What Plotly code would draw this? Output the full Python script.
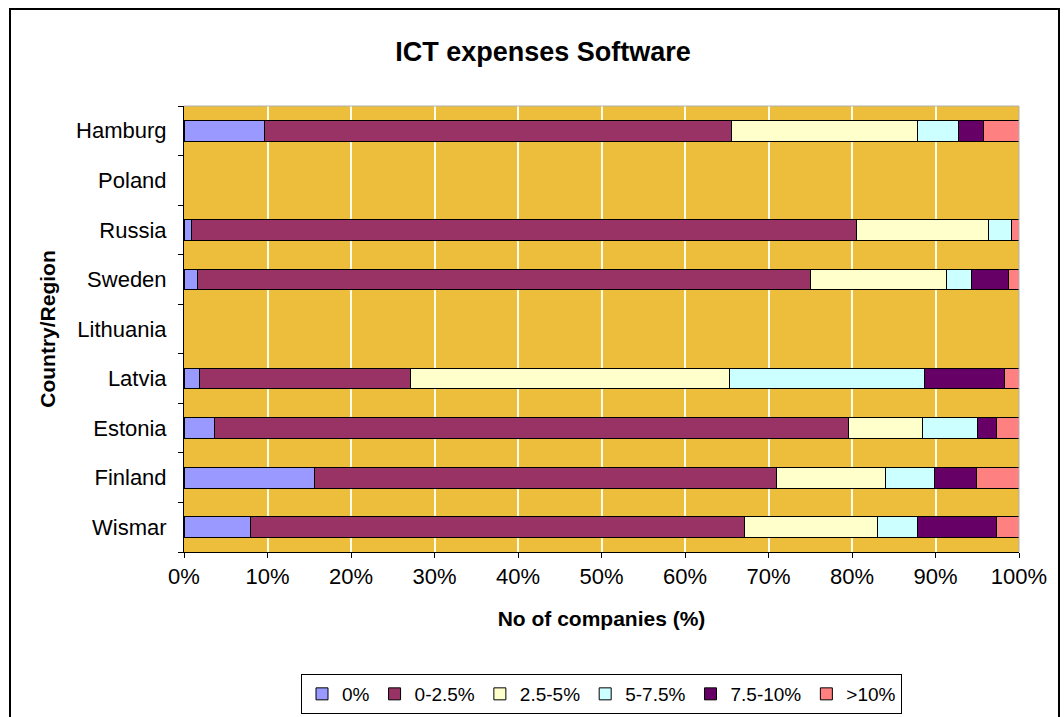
import plotly.graph_objects as go

# Categories (bottom to top, as drawn)
countries = ["Wismar", "Finland", "Estonia", "Latvia", "Lithuania",
             "Sweden", "Russia", "Poland", "Hamburg"]

# Share of companies (%) per ICT software expense class; Poland/Lithuania have no data
share_0 = [8.0, 15.6, 3.6, 1.9, None, 1.6, 0.9, None, 9.6]
share_0_25 = [59.1, 55.3, 76.0, 25.2, None, 73.4, 79.6, None, 56.0]
share_25_5 = [15.9, 13.1, 8.9, 38.2, None, 16.3, 15.9, None, 22.2]
share_5_75 = [4.8, 5.9, 6.5, 23.4, None, 3.0, 2.7, None, 4.9]
share_75_10 = [9.5, 5.0, 2.3, 9.6, None, 4.4, 0.0, None, 3.0]
share_10 = [2.7, 5.1, 2.7, 1.7, None, 1.3, 0.9, None, 4.3]

series = [
    ("0%", share_0, "#9999FF"),
    ("0-2.5%", share_0_25, "#993366"),
    ("2.5-5%", share_25_5, "#FFFFCC"),
    ("5-7.5%", share_5_75, "#CCFFFF"),
    ("7.5-10%", share_75_10, "#660066"),
    (">10%", share_10, "#FF8080"),
]

font = "Liberation Sans, Arial, sans-serif"

fig = go.Figure()
for name, vals, col in series:
    fig.add_trace(go.Bar(
        y=countries, x=vals, name=name, orientation="h",
        marker=dict(color=col, line=dict(color="black", width=1)),
    ))

# plot area: x 184..1019 px, y 106..552 px
L, R, T, B = 184, 1019, 106, 552
W, H = 1064, 717


def px_x(p):
    return (p - L) / (R - L)


def px_y(p):
    return (B - p) / (B - T)


fig.update_layout(
    width=W, height=H,
    barmode="stack", bargap=0.58,
    paper_bgcolor="white", plot_bgcolor="#ECBE3C",
    margin=dict(l=L, r=W - R, t=T, b=H - B, pad=0, autoexpand=False),
    font=dict(family=font, size=22, color="black"),
    title=dict(text="<b>ICT expenses Software</b>", x=543 / W, xanchor="center",
               y=1 - 52 / H, yanchor="middle", font=dict(size=27, family=font)),
    showlegend=True,
    legend=dict(orientation="h", x=0.5, xanchor="center", y=px_y(694), yanchor="middle",
                bordercolor="black", borderwidth=1, font=dict(size=19),
                itemwidth=30, traceorder="normal", bgcolor="white"),
    shapes=[dict(type="rect", xref="paper", yref="paper",
                 x0=px_x(10), x1=px_x(1059), y0=px_y(740), y1=px_y(9),
                 line=dict(color="black", width=2), layer="below")],
)

fig.update_xaxes(
    range=[0, 100], dtick=10, ticksuffix="%", automargin=False,
    showgrid=True, gridcolor="#FFFBE8", gridwidth=1.5, zeroline=False,
    showline=True, linecolor="black", linewidth=1, mirror=False,
    ticks="outside", ticklen=5, tickcolor="black",
    title=dict(text="<b>No of companies (%)</b>", standoff=22, font=dict(size=21)),
)
fig.update_yaxes(
    categoryorder="array", categoryarray=countries, range=[-0.5, 8.5],
    automargin=False,
    showgrid=False, showline=True, linecolor="black", linewidth=1,
    ticks="outside", ticklen=5, tickcolor="black", tickson="boundaries",
    ticklabelstandoff=12,
    title=dict(text="<b>Country/Region</b>", standoff=14, font=dict(size=21)),
)

# light grey border on the top and right of plot area
fig.add_shape(type="line", xref="paper", yref="paper", x0=0, x1=1, y0=1, y1=1,
              line=dict(color="#B0B0B0", width=1))
fig.add_shape(type="line", xref="paper", yref="paper", x0=1, x1=1, y0=0, y1=1,
              line=dict(color="#B0B0B0", width=1))

# drop the default page margin so the figure sits at the window's corner
fig.write_html("out.html", config={"displayModeBar": False},
               post_script="document.body.style.margin='0';")
